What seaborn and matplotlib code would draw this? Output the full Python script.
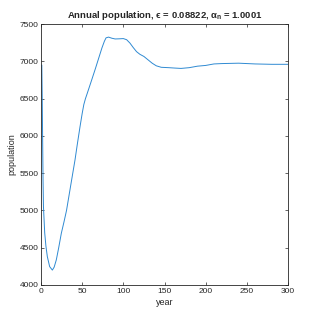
import numpy as np
import pandas as pd
import matplotlib
matplotlib.use("Agg")
import matplotlib.pyplot as plt
import seaborn as sns

# values
years = [1, 1.5, 2, 2.5, 3, 4.5, 6, 7.7, 10.5, 13.8, 16, 18.6, 21.5, 24.7, 28, 31,
         36, 41.3, 44, 47.4, 50, 52, 54, 56, 59, 62, 66, 70, 74, 77, 79, 82, 86, 90,
         95, 100, 104, 108, 112, 116, 120, 125, 130, 135, 140, 146, 155, 162, 170,
         180, 190, 200, 210, 220, 240, 260, 280, 300]
population = [6950, 6500, 5950, 5400, 5050, 4700, 4520, 4381, 4247, 4200, 4240, 4337,
              4500, 4694, 4850, 5000, 5330, 5677, 5880, 6124, 6300, 6420, 6500, 6565,
              6665, 6765, 6900, 7040, 7180, 7270, 7315, 7325, 7310, 7300, 7302, 7305,
              7290, 7245, 7185, 7130, 7095, 7065, 7020, 6975, 6940, 6920, 6915, 6910,
              6905, 6915, 6935, 6945, 6965, 6970, 6975, 6965, 6960, 6960]
x_ticks = [0, 50, 100, 150, 200, 250, 300]
y_ticks = [4000, 4500, 5000, 5500, 6000, 6500, 7000, 7500]

df = pd.DataFrame({"year": years, "population": population})

sns.set_style("white")
plt.rcParams["font.family"] = ["Liberation Sans", "DejaVu Sans"]
plt.rcParams["mathtext.fontset"] = "custom"
plt.rcParams["mathtext.rm"] = "Liberation Sans:bold"

fig = plt.figure(figsize=(3.19, 3.19), dpi=100)
ax = fig.add_axes([0.1285, 0.1066, 0.7745, 0.818])
sns.lineplot(data=df, x="year", y="population", ax=ax, color="#2f8ad2", linewidth=0.7)

ax.set_xlim(0, 300)
ax.set_ylim(4000, 7500)
ax.set_xticks(x_ticks)
ax.set_yticks(y_ticks)
ax.tick_params(direction="in", length=2.5, width=0.5, colors="#262626", labelsize=6,
               top=True, right=True, bottom=True, left=True, pad=2)
for s in ax.spines.values():
    s.set_color("#262626")
    s.set_linewidth(0.6)
ax.set_xlabel("year", fontsize=6.5, labelpad=2, color="#262626")
ax.set_ylabel("population", fontsize=6.5, labelpad=2, color="#262626")
ax.set_title("Annual population, \u03f5 = 0.08822, \u03b1$_\\mathrm{n}$ = 1.0001",
             fontsize=6.8, fontweight="bold", pad=4)

fig.savefig("out.png", dpi=100)
